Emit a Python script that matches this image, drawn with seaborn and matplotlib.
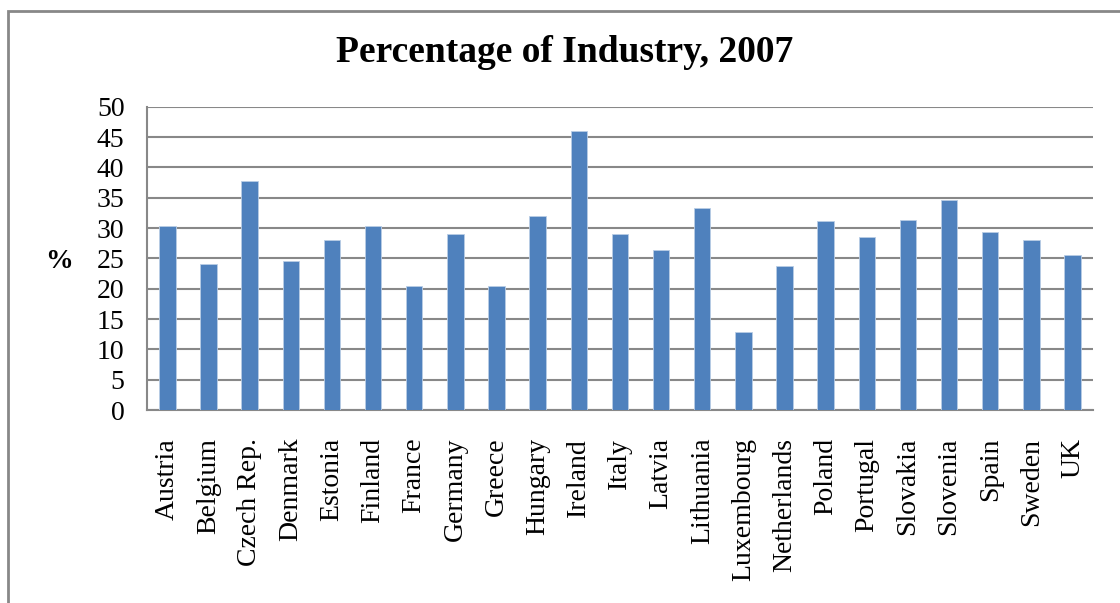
import matplotlib
matplotlib.use('Agg')
import matplotlib.pyplot as plt
import seaborn as sns
import pandas as pd

countries = ['Austria', 'Belgium', 'Czech Rep.', 'Denmark', 'Estonia', 'Finland',
             'France', 'Germany', 'Greece', 'Hungary', 'Ireland', 'Italy', 'Latvia',
             'Lithuania', 'Luxembourg', 'Netherlands', 'Poland', 'Portugal',
             'Slovakia', 'Slovenia', 'Spain', 'Sweden', 'UK']
industry = [30.4, 24.0, 37.7, 24.6, 28.0, 30.3, 20.5, 29.1, 20.5, 32.0, 46.0, 29.1,
            26.3, 33.3, 12.9, 23.8, 31.2, 28.6, 31.4, 34.7, 29.4, 28.1, 25.5]
y_ticks = list(range(0, 51, 5))

if __name__ == '__main__':
    sns.set_style('white')
    plt.rcParams['font.family'] = ['Liberation Serif', 'DejaVu Serif']
    plt.rcParams['text.color'] = 'black'
    plt.rcParams['xtick.color'] = 'black'
    plt.rcParams['ytick.color'] = 'black'

    df = pd.DataFrame({'country': countries, 'value': industry})

    fig = plt.figure(figsize=(11.2, 6.03), dpi=100)
    ax = fig.add_axes([0.131, 0.320, 0.845, 0.503])

    sns.barplot(data=df, x='country', y='value', color='#4F81BD', saturation=1,
                width=0.4, edgecolor='#B9CDE5', linewidth=0.6, ax=ax, zorder=3)

    ax.set_ylim(0, 50)
    ax.set_xlim(-0.5, len(countries) - 0.5)
    ax.set_yticks(y_ticks)
    ax.set_yticklabels([str(t) for t in y_ticks], fontsize=20)
    ax.set_xticks(range(len(countries)))
    ax.set_xticklabels(countries, rotation=90, fontsize=20)
    ax.tick_params(axis='both', length=0, labelcolor='black')
    ax.tick_params(axis='x', pad=20)
    ax.tick_params(axis='y', pad=16)

    ax.yaxis.grid(True, color='#888888', linewidth=1.5, zorder=0)
    ax.set_axisbelow(True)
    for side in ['top', 'right']:
        ax.spines[side].set_visible(False)
    for side in ['left', 'bottom']:
        ax.spines[side].set_color('#888888')
        ax.spines[side].set_linewidth(1.5)

    ax.set_xlabel('')
    ax.set_ylabel('')
    fig.text(59 / 1120, 1 - 262 / 603, '%', fontsize=20, fontweight='bold',
             ha='center', va='center', color='black')
    fig.text(565 / 1120, 1 - 53 / 603, 'Percentage of Industry, 2007',
             fontsize=27, fontweight='bold', ha='center', va='center', color='black')

    # outer chart frame
    frame = plt.Rectangle((8 / 1120, -0.1), 1.2, 1 - 11 / 603 + 0.1,
                          transform=fig.transFigure, fill=False,
                          edgecolor='#888888', linewidth=2)
    fig.patches.append(frame)

    fig.savefig('out.png', dpi=100)
